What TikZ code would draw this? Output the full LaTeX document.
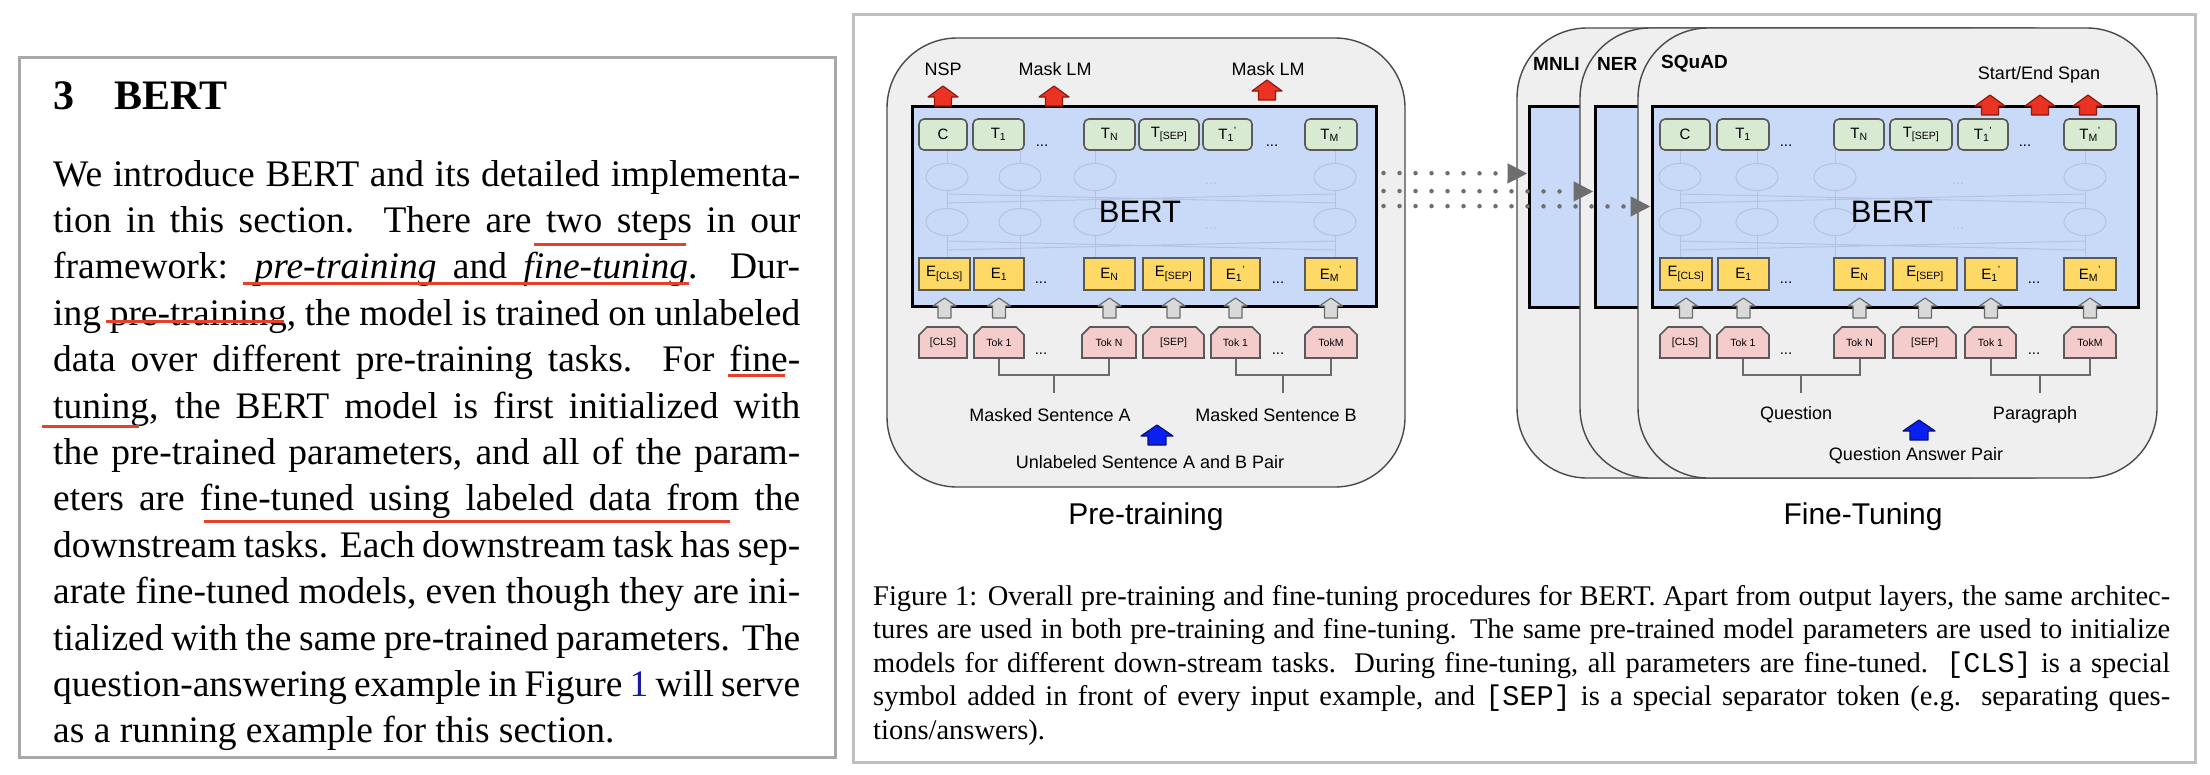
\documentclass[tikz,border=0pt]{standalone}
\usepackage{fontspec}
\setmainfont{Liberation Serif}
\setsansfont{Liberation Sans}
\setmonofont{Liberation Mono}
\usepackage{xcolor}
\usepackage{tikz}
\usetikzlibrary{arrows.meta,positioning,shapes.misc,calc}
\definecolor{panelline}{HTML}{A8A8A8}
\definecolor{panellight}{HTML}{BFBFBF}
\definecolor{boxfill}{HTML}{EFEFEF}
\definecolor{boxline}{HTML}{4A4A4A}
\definecolor{bertfill}{HTML}{C9DAF8}
\definecolor{outfill}{HTML}{D9EAD3}
\definecolor{embfill}{HTML}{FFD966}
\definecolor{tokfill}{HTML}{F4CCCC}
\definecolor{tokline}{HTML}{5A5A5A}
\definecolor{redfill}{HTML}{EA3323}
\definecolor{redline}{HTML}{8E1A10}
\definecolor{bluefill}{HTML}{0A20F0}
\definecolor{blueline}{HTML}{06107A}
\definecolor{grayfill}{HTML}{D9D9D9}
\definecolor{grayline}{HTML}{6B6B6B}
\definecolor{ghost}{HTML}{B3C3DF}
\definecolor{dotgray}{HTML}{6E6E6E}
\definecolor{marker}{HTML}{E5402A}
\definecolor{linkblue}{HTML}{1B1B9E}
\newcommand{\bodysz}{\fontsize{37.5pt}{46pt}\selectfont}
\newcommand{\headsz}{\fontsize{42pt}{48pt}\selectfont\bfseries}
\newcommand{\capsz}{\fontsize{28.5pt}{33pt}\selectfont}
\newcommand{\labsz}{\fontsize{18pt}{20pt}\selectfont\sffamily}
\newcommand{\tasksz}{\fontsize{19pt}{21pt}\selectfont\sffamily\bfseries}
\newcommand{\boxsz}{\fontsize{15pt}{17pt}\selectfont\sffamily}
\newcommand{\toksz}{\fontsize{10.5pt}{12pt}\selectfont\sffamily}
\newcommand{\bertsz}{\fontsize{31pt}{34pt}\selectfont\sffamily}
\newcommand{\stagesz}{\fontsize{30pt}{34pt}\selectfont\sffamily}
\tikzset{
  panel/.style={draw=panelline,line width=3pt},
  stage/.style={draw=boxline,fill=boxfill,line width=1.4pt,rounded corners=70pt,inner sep=0pt},
  bertbox/.style={draw=black,fill=bertfill,line width=3pt,inner sep=0pt},
  outtok/.style={draw=tokline,fill=outfill,line width=1.6pt,rounded corners=5pt,minimum height=31pt,inner sep=0pt,font=\boxsz},
  embtok/.style={draw=tokline,fill=embfill,line width=1.6pt,minimum height=32pt,inner sep=0pt,font=\boxsz},
  intok/.style={chamfered rectangle,chamfered rectangle corners={north west,north east},chamfered rectangle xsep=4pt,chamfered rectangle ysep=4pt,draw=tokline,fill=tokfill,line width=1.6pt,minimum height=31pt,inner sep=0pt,font=\toksz},
  dotsep/.style={anchor=base,inner sep=0pt,font=\boxsz},
  bracket/.style={draw=grayline,line width=2pt},
  dotarr/.style={draw=dotgray,line width=4.5pt,line cap=round,dash pattern=on 0pt off 16pt,shorten <=6pt,-{Triangle[length=20pt,width=19pt]}},
  ghostline/.style={draw=ghost,line width=1pt},
  ghostdots/.style={text=ghost,inner sep=0pt,font=\boxsz},
  lbl/.style={font=\labsz,inner sep=0pt},
  task/.style={font=\tasksz,inner sep=0pt,anchor=west},
  bertlab/.style={font=\bertsz,inner sep=0pt},
  stagelab/.style={font=\stagesz,inner sep=0pt},
  headtxt/.style={font=\headsz,anchor=base west,inner sep=0pt},
  bodyline/.style={font=\bodysz,anchor=base west,inner sep=0pt},
  capline/.style={font=\capsz,anchor=base west,inner sep=0pt},
  redmark/.style={draw=marker,line width=3pt},
  pics/blockup/.style n args={6}{code={
    \draw[fill=#1,draw=#2,line width=1.2pt,line join=round]
      (-#4,0) -- (-#4,-#5) -- (-#3,-#5) -- (0,-#6) -- (#3,-#5) -- (#4,-#5) -- (#4,0) -- cycle;}},
  pics/redup/.style={/tikz/pics/blockup={redfill}{redline}{15}{8.5}{9}{20}},
  pics/grayup/.style={/tikz/pics/blockup={grayfill}{grayline}{11.5}{6.5}{12}{20}},
  pics/blueup/.style={/tikz/pics/blockup={bluefill}{blueline}{16}{9}{9}{20}}
}
\begin{document}
\begin{tikzpicture}[x=1pt,y=-1pt]
  \useasboundingbox (0,0) rectangle (2210,774);
  \fill[white] (0,0) rectangle (2210,774);

  % text column
  \draw[panel] (19,57) rectangle (835,757);
  \node[headtxt] (secnum) at (53,109) {3};
  \node[headtxt] (sectitle) at (114,109) {BERT};
  \node[bodyline] (l1) at (53,186) {\makebox[747pt][s]{We introduce BERT and its detailed implementa-}};
  \node[bodyline] (l2) at (53,232.4) {\makebox[747pt][s]{tion in this section.\ \ There are two steps in our}};
  \node[bodyline] (l3) at (53,278.8) {\makebox[747pt][s]{framework: \textit{pre-training} and \textit{fine-tuning}.\ \ Dur-}};
  \node[bodyline] (l4) at (53,325.2) {\makebox[747pt][s]{ing pre-training, the model is trained on unlabeled}};
  \node[bodyline] (l5) at (53,371.6) {\makebox[747pt][s]{data over different pre-training tasks.\ \ For fine-}};
  \node[bodyline] (l6) at (53,418) {\makebox[747pt][s]{tuning, the BERT model is first initialized with}};
  \node[bodyline] (l7) at (53,464.4) {\makebox[747pt][s]{the pre-trained parameters, and all of the param-}};
  \node[bodyline] (l8) at (53,510.8) {\makebox[747pt][s]{eters are fine-tuned using labeled data from the}};
  \node[bodyline] (l9) at (53,557.2) {\makebox[747pt][s]{downstream tasks. Each downstream task has sep-}};
  \node[bodyline] (l10) at (53,603.6) {\makebox[747pt][s]{arate fine-tuned models, even though they are ini-}};
  \node[bodyline] (l11) at (53,650) {\makebox[747pt][s]{tialized with the same pre-trained parameters. The}};
  \node[bodyline] (l12) at (53,696.4) {\makebox[747pt][s]{question-answering example in Figure \textcolor{linkblue}{1} will serve}};
  \node[bodyline] (l13) at (53,742.8) {as a running example for this section.};
  \draw[redmark] (534,244) -- (686,244);
  \draw[redmark] (243,283) -- (689,283);
  \draw[redmark] (106,321) -- (284,321);
  \draw[redmark] (728,375) -- (785,375);
  \draw[redmark] (42,426) -- (139,426);
  \draw[redmark] (204,521) -- (730,521);

  % figure panel
  \draw[panel,draw=panellight] (853,14) rectangle (2195,762);

  % pre-training
  \node[stage,minimum width=518pt,minimum height=449pt] (pstage) at (1146,262.5) {};
  \node[bertbox,minimum width=464pt,minimum height=200pt] (pbert) at (1144,206) {};
  \foreach \gx in {947,1020,1095,1335} {
    \draw[ghostline] (\gx,177) ellipse (21pt and 13.5pt) (\gx,222) ellipse (21pt and 13.5pt);
    \draw[ghostline] (\gx,151) -- (\gx,163.5) (\gx,190.5) -- (\gx,208.5) (\gx,235.5) -- (\gx,257);
  }
  \draw[ghostline] (947,194) -- (1335,203) (947,203) -- (1335,194) (947,241) -- (1335,250) (947,250) -- (1335,241);
  \node[ghostdots] (pgd1) at (1211,184) {...};
  \node[ghostdots] (pgd2) at (1211,229) {...};
  \node[bertlab] (pbertlab) at (1140,212) {BERT};
  \node[outtok,minimum width=48pt] (pt1) at (943,134.5) {C};
  \node[outtok,minimum width=51pt] (pt2) at (998.5,134.5) {T\textsubscript{1}};
  \node[dotsep] (ptd1) at (1042,146) {...};
  \node[outtok,minimum width=51pt] (pt3) at (1109.5,134.5) {T\textsubscript{N}};
  \node[outtok,minimum width=60pt] (pt4) at (1169,134.5) {T\textsubscript{[SEP]}};
  \node[outtok,minimum width=49pt] (pt5) at (1227.5,134.5) {T\textsubscript{1}\textsuperscript{'}};
  \node[dotsep] (ptd2) at (1272,146) {...};
  \node[outtok,minimum width=52pt] (pt6) at (1331,134.5) {T\textsubscript{M}\textsuperscript{'}};
  \node[embtok,minimum width=51pt] (pe1) at (944.5,274) {E\textsubscript{[CLS]}};
  \node[embtok,minimum width=50pt] (pe2) at (999,274) {E\textsubscript{1}};
  \node[dotsep] (ped1) at (1041,283) {...};
  \node[embtok,minimum width=51pt] (pe3) at (1109.5,274) {E\textsubscript{N}};
  \node[embtok,minimum width=61pt] (pe4) at (1173.5,274) {E\textsubscript{[SEP]}};
  \node[embtok,minimum width=49pt] (pe5) at (1235.5,274) {E\textsubscript{1}\textsuperscript{'}};
  \node[dotsep] (ped2) at (1278,283) {...};
  \node[embtok,minimum width=52pt] (pe6) at (1331,274) {E\textsubscript{M}\textsuperscript{'}};
  \node[intok,minimum width=48pt] (pk1) at (943,342.5) {[CLS]};
  \node[intok,minimum width=50pt] (pk2) at (999,342.5) {Tok 1};
  \node[dotsep] (pkd1) at (1041,354) {...};
  \node[intok,minimum width=54pt] (pk3) at (1109,342.5) {Tok N};
  \node[intok,minimum width=61pt] (pk4) at (1173.5,342.5) {[SEP]};
  \node[intok,minimum width=49pt] (pk5) at (1235.5,342.5) {Tok 1};
  \node[dotsep] (pkd2) at (1278,354) {...};
  \node[intok,minimum width=52pt] (pk6) at (1331,342.5) {TokM};
  \pic at (943,106) {redup}; \pic at (1054,106) {redup}; \pic at (1267,100) {redup};
  \node[lbl] (pnsp) at (943,69) {NSP};
  \node[lbl] (pmlm1) at (1055,69) {Mask LM};
  \node[lbl] (pmlm2) at (1268,69) {Mask LM};
  \pic at (944.5,318) {grayup}; \pic at (999,318) {grayup}; \pic at (1109.5,318) {grayup};
  \pic at (1173.5,318) {grayup}; \pic at (1235.5,318) {grayup}; \pic at (1331,318) {grayup};
  \draw[bracket] (pk2.south) -- ++(0,16) -| (pk3.south);
  \draw[bracket] (pk5.south) -- ++(0,16) -| (pk6.south);
  \coordinate (pmidA) at ($(pk2.south)!.5!(pk3.south)+(0,16)$);
  \coordinate (pmidB) at ($(pk5.south)!.5!(pk6.south)+(0,16)$);
  \draw[bracket] (pmidA) -- ++(0,18); \draw[bracket] (pmidB) -- ++(0,18);
  \node[lbl] (psentA) at (1050,415) {Masked Sentence A};
  \node[lbl] (psentB) at (1276,415) {Masked Sentence B};
  \pic at (1157,445) {blueup};
  \node[lbl] (ppair) at (1150,462) {Unlabeled Sentence A and B Pair};
  \node[stagelab] (ptitle) at (1146,517) {Pre-training};

  % fine-tuning
  \node[stage,minimum width=519pt,minimum height=450pt] (mnli) at (1776.5,253) {};
  \node[bertbox,minimum width=486pt,minimum height=201pt] (mbert) at (1772,206.5) {};
  \node[task] (mnlilab) at (1533,64) {MNLI};
  \node[stage,minimum width=519pt,minimum height=450pt] (ner) at (1839.5,253) {};
  \node[bertbox,minimum width=486pt,minimum height=201pt] (nbert) at (1838,206.5) {};
  \node[task] (nerlab) at (1597,64) {NER};
  \node[stage,minimum width=519pt,minimum height=450pt] (squad) at (1897.5,253) {};
  \node[bertbox,minimum width=486pt,minimum height=201pt] (sbert) at (1895,206.5) {};
  \node[task] (squadlab) at (1661,64) {SQuAD};
  \foreach \gx in {1680,1757,1835,2085} {
    \draw[ghostline] (\gx,177) ellipse (21pt and 13.5pt) (\gx,222) ellipse (21pt and 13.5pt);
    \draw[ghostline] (\gx,151) -- (\gx,163.5) (\gx,190.5) -- (\gx,208.5) (\gx,235.5) -- (\gx,257);
  }
  \draw[ghostline] (1680,194) -- (2085,203) (1680,203) -- (2085,194) (1680,241) -- (2085,250) (1680,250) -- (2085,241);
  \node[ghostdots] (fgd1) at (1958,184) {...};
  \node[ghostdots] (fgd2) at (1958,229) {...};
  \node[bertlab] (fbertlab) at (1892,212) {BERT};
  \node[outtok,minimum width=50pt] (ft1) at (1685,134.5) {C};
  \node[outtok,minimum width=52pt] (ft2) at (1743,134.5) {T\textsubscript{1}};
  \node[dotsep] (ftd1) at (1786,146) {...};
  \node[outtok,minimum width=50pt] (ft3) at (1859,134.5) {T\textsubscript{N}};
  \node[outtok,minimum width=62pt] (ft4) at (1921,134.5) {T\textsubscript{[SEP]}};
  \node[outtok,minimum width=50pt] (ft5) at (1983,134.5) {T\textsubscript{1}\textsuperscript{'}};
  \node[dotsep] (ftd2) at (2025,146) {...};
  \node[outtok,minimum width=52pt] (ft6) at (2090,134.5) {T\textsubscript{M}\textsuperscript{'}};
  \node[embtok,minimum width=52pt] (fe1) at (1686,274) {E\textsubscript{[CLS]}};
  \node[embtok,minimum width=51pt] (fe2) at (1743.5,274) {E\textsubscript{1}};
  \node[dotsep] (fed1) at (1786,283) {...};
  \node[embtok,minimum width=51pt] (fe3) at (1859.5,274) {E\textsubscript{N}};
  \node[embtok,minimum width=64pt] (fe4) at (1925,274) {E\textsubscript{[SEP]}};
  \node[embtok,minimum width=52pt] (fe5) at (1991,274) {E\textsubscript{1}\textsuperscript{'}};
  \node[dotsep] (fed2) at (2034,283) {...};
  \node[embtok,minimum width=52pt] (fe6) at (2090,274) {E\textsubscript{M}\textsuperscript{'}};
  \node[intok,minimum width=50pt] (fk1) at (1685,342.5) {[CLS]};
  \node[intok,minimum width=52pt] (fk2) at (1743,342.5) {Tok 1};
  \node[dotsep] (fkd1) at (1786,354) {...};
  \node[intok,minimum width=51pt] (fk3) at (1859.5,342.5) {Tok N};
  \node[intok,minimum width=63pt] (fk4) at (1924.5,342.5) {[SEP]};
  \node[intok,minimum width=51pt] (fk5) at (1990.5,342.5) {Tok 1};
  \node[dotsep] (fkd2) at (2034,354) {...};
  \node[intok,minimum width=52pt] (fk6) at (2090,342.5) {TokM};
  \pic at (1990,115) {redup}; \pic at (2040,115) {redup}; \pic at (2088,115) {redup};
  \node[lbl] (fspan) at (2039,75) {Start/End Span};
  \pic at (1686,318) {grayup}; \pic at (1743.5,318) {grayup}; \pic at (1859.5,318) {grayup};
  \pic at (1925,318) {grayup}; \pic at (1991,318) {grayup}; \pic at (2090,318) {grayup};
  \draw[bracket] (fk2.south) -- ++(0,16) -| (fk3.south);
  \draw[bracket] (fk5.south) -- ++(0,16) -| (fk6.south);
  \coordinate (fmidQ) at ($(fk2.south)!.5!(fk3.south)+(0,16)$);
  \coordinate (fmidP) at ($(fk5.south)!.5!(fk6.south)+(0,16)$);
  \draw[bracket] (fmidQ) -- ++(0,18); \draw[bracket] (fmidP) -- ++(0,18);
  \node[lbl] (fquest) at (1796,415) {Question};
  \node[lbl] (fpara) at (2035,415) {Paragraph};
  \pic at (1919,440) {blueup};
  \node[lbl] (fpair) at (1916,456) {Question Answer Pair};
  \node[stagelab] (ftitle) at (1863,517) {Fine-Tuning};

  % hand-over of the pre-trained weights
  \draw[dotarr] ([yshift=33pt]pbert.east) -- ([yshift=33pt]mbert.west);
  \draw[dotarr] ([yshift=15pt]pbert.east) -- ([yshift=15pt]nbert.west);
  \draw[dotarr] (pbert.east) -- (sbert.west);

  % caption
  \node[capline] (cap1) at (873,605) {\makebox[1297pt][s]{Figure 1: Overall pre-training and fine-tuning procedures for BERT. Apart from output layers, the same architec-}};
  \node[capline] (cap2) at (873,638.5) {\makebox[1297pt][s]{tures are used in both pre-training and fine-tuning. The same pre-trained model parameters are used to initialize}};
  \node[capline] (cap3) at (873,672) {\makebox[1297pt][s]{models for different down-stream tasks.\ \ During fine-tuning, all parameters are fine-tuned.\ \ \texttt{[CLS]} is a special}};
  \node[capline] (cap4) at (873,705.5) {\makebox[1297pt][s]{symbol added in front of every input example, and \texttt{[SEP]} is a special separator token (e.g.\ \ separating ques-}};
  \node[capline] (cap5) at (873,739) {tions/answers).};
\end{tikzpicture}
\end{document}
